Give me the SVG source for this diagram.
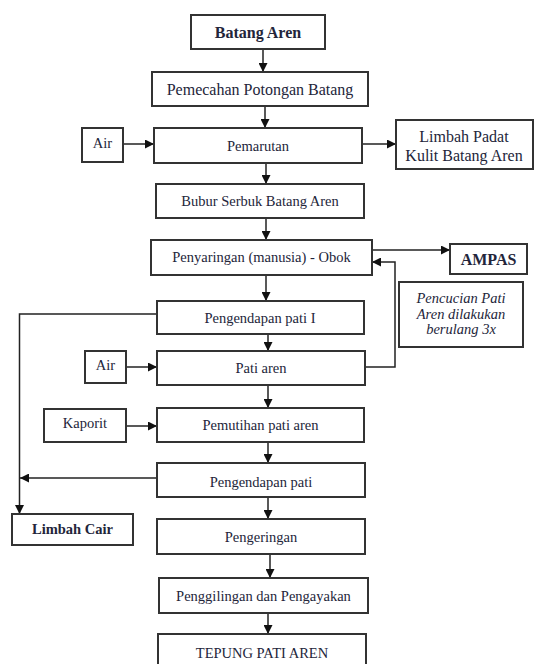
<svg xmlns="http://www.w3.org/2000/svg" width="540" height="664" viewBox="0 0 540 664" font-family="Liberation Serif, Tinos, DejaVu Serif, serif">
<style>
  .box { fill: #ffffff; stroke: #333333; stroke-width: 2; }
  .t { font-size: 14.5px; fill: #23253a; text-anchor: middle; }
  .b { font-weight: bold; font-size: 16px; }
  .lg { font-size: 16px; }
  .it { font-style: italic; font-size: 14.5px; }
  .c { fill: none; stroke: #222222; stroke-width: 1.5; }
</style>
<defs>
  <marker id="ah" viewBox="0 0 10 10" refX="10" refY="5" markerWidth="9" markerHeight="9" markerUnits="userSpaceOnUse" orient="auto">
    <path d="M0,0 L10,5 L0,10 z" fill="#111111"/>
  </marker>
</defs>
<rect width="540" height="664" fill="#ffffff"/>

<g id="connectors">
  <line class="c" x1="263" y1="49" x2="263" y2="72" marker-end="url(#ah)"/>
  <line class="c" x1="265" y1="106" x2="265" y2="128" marker-end="url(#ah)"/>
  <line class="c" x1="123" y1="144" x2="154" y2="144" marker-end="url(#ah)"/>
  <line class="c" x1="362" y1="144" x2="396" y2="144" marker-end="url(#ah)"/>
  <line class="c" x1="266" y1="163" x2="266" y2="184" marker-end="url(#ah)"/>
  <line class="c" x1="266" y1="218" x2="266" y2="240" marker-end="url(#ah)"/>
  <line class="c" x1="372" y1="250" x2="450" y2="250" marker-end="url(#ah)"/>
  <line class="c" x1="266" y1="275" x2="266" y2="301" marker-end="url(#ah)"/>
  <polyline class="c" points="365,367 395,367 395,262 372,262" marker-end="url(#ah)"/>
  <line class="c" x1="268" y1="334" x2="268" y2="351" marker-end="url(#ah)"/>
  <line class="c" x1="126" y1="367" x2="157" y2="367" marker-end="url(#ah)"/>
  <line class="c" x1="268" y1="385" x2="268" y2="408" marker-end="url(#ah)"/>
  <line class="c" x1="126" y1="426" x2="157" y2="426" marker-end="url(#ah)"/>
  <line class="c" x1="268" y1="442" x2="268" y2="463" marker-end="url(#ah)"/>
  <polyline class="c" points="157,314 19.5,314 19.5,514" marker-end="url(#ah)"/>
  <line class="c" x1="157" y1="478" x2="20" y2="478" marker-end="url(#ah)"/>
  <line class="c" x1="268" y1="497" x2="268" y2="519" marker-end="url(#ah)"/>
  <line class="c" x1="270" y1="554" x2="270" y2="578" marker-end="url(#ah)"/>
  <line class="c" x1="268" y1="613" x2="268" y2="634" marker-end="url(#ah)"/>
</g>

<g id="batang-aren">
  <rect class="box" x="191" y="15" width="134" height="34"/>
  <text class="t b" x="258" y="38">Batang Aren</text>
</g>
<g id="pemecahan">
  <rect class="box" x="152" y="72" width="216" height="34"/>
  <text class="t lg" x="260" y="95">Pemecahan Potongan Batang</text>
</g>
<g id="air-1">
  <rect class="box" x="82" y="128" width="41" height="34"/>
  <text class="t" x="102.5" y="148">Air</text>
</g>
<g id="pemarutan">
  <rect class="box" x="154" y="128" width="208" height="35"/>
  <text class="t" x="258" y="151">Pemarutan</text>
</g>
<g id="limbah-padat">
  <rect class="box" x="396" y="120" width="137" height="49"/>
  <text class="t lg" x="464" y="142">Limbah Padat</text>
  <text class="t lg" x="464" y="161">Kulit Batang Aren</text>
</g>
<g id="bubur">
  <rect class="box" x="156" y="184" width="208" height="34"/>
  <text class="t" x="260" y="206">Bubur Serbuk Batang Aren</text>
</g>
<g id="penyaringan">
  <rect class="box" x="151" y="240" width="221" height="35"/>
  <text class="t" x="261.5" y="262">Penyaringan (manusia) - Obok</text>
</g>
<g id="ampas">
  <rect class="box" x="450" y="244" width="77" height="30"/>
  <text class="t b" x="488.5" y="265">AMPAS</text>
</g>
<g id="pencucian">
  <rect class="box" x="399" y="282" width="124" height="65"/>
  <text class="t it" x="461" y="303">Pencucian Pati</text>
  <text class="t it" x="461" y="318.5">Aren dilakukan</text>
  <text class="t it" x="461" y="334">berulang 3x</text>
</g>
<g id="pengendapan-1">
  <rect class="box" x="157" y="301" width="207" height="33"/>
  <text class="t" x="260" y="323">Pengendapan pati I</text>
</g>
<g id="air-2">
  <rect class="box" x="85" y="351" width="41" height="32"/>
  <text class="t" x="105.5" y="370">Air</text>
</g>
<g id="pati-aren">
  <rect class="box" x="157" y="351" width="208" height="34"/>
  <text class="t" x="261" y="373">Pati aren</text>
</g>
<g id="kaporit">
  <rect class="box" x="44" y="409" width="82" height="33"/>
  <text class="t" x="85" y="428">Kaporit</text>
</g>
<g id="pemutihan">
  <rect class="box" x="157" y="408" width="207" height="34"/>
  <text class="t" x="260.5" y="430">Pemutihan pati aren</text>
</g>
<g id="pengendapan-2">
  <rect class="box" x="157" y="463" width="208" height="34"/>
  <text class="t" x="261" y="487">Pengendapan pati</text>
</g>
<g id="limbah-cair">
  <rect class="box" x="12" y="514" width="121" height="31"/>
  <text class="t b" style="font-size:14.5px" x="72.5" y="534">Limbah Cair</text>
</g>
<g id="pengeringan">
  <rect class="box" x="157" y="519" width="208" height="35"/>
  <text class="t" x="261" y="542">Pengeringan</text>
</g>
<g id="penggilingan">
  <rect class="box" x="159" y="578" width="209" height="35"/>
  <text class="t" x="263.5" y="601">Penggilingan dan Pengayakan</text>
</g>
<g id="tepung">
  <rect class="box" x="158" y="634" width="208" height="40"/>
  <text class="t" x="262" y="658">TEPUNG PATI AREN</text>
</g>
</svg>
